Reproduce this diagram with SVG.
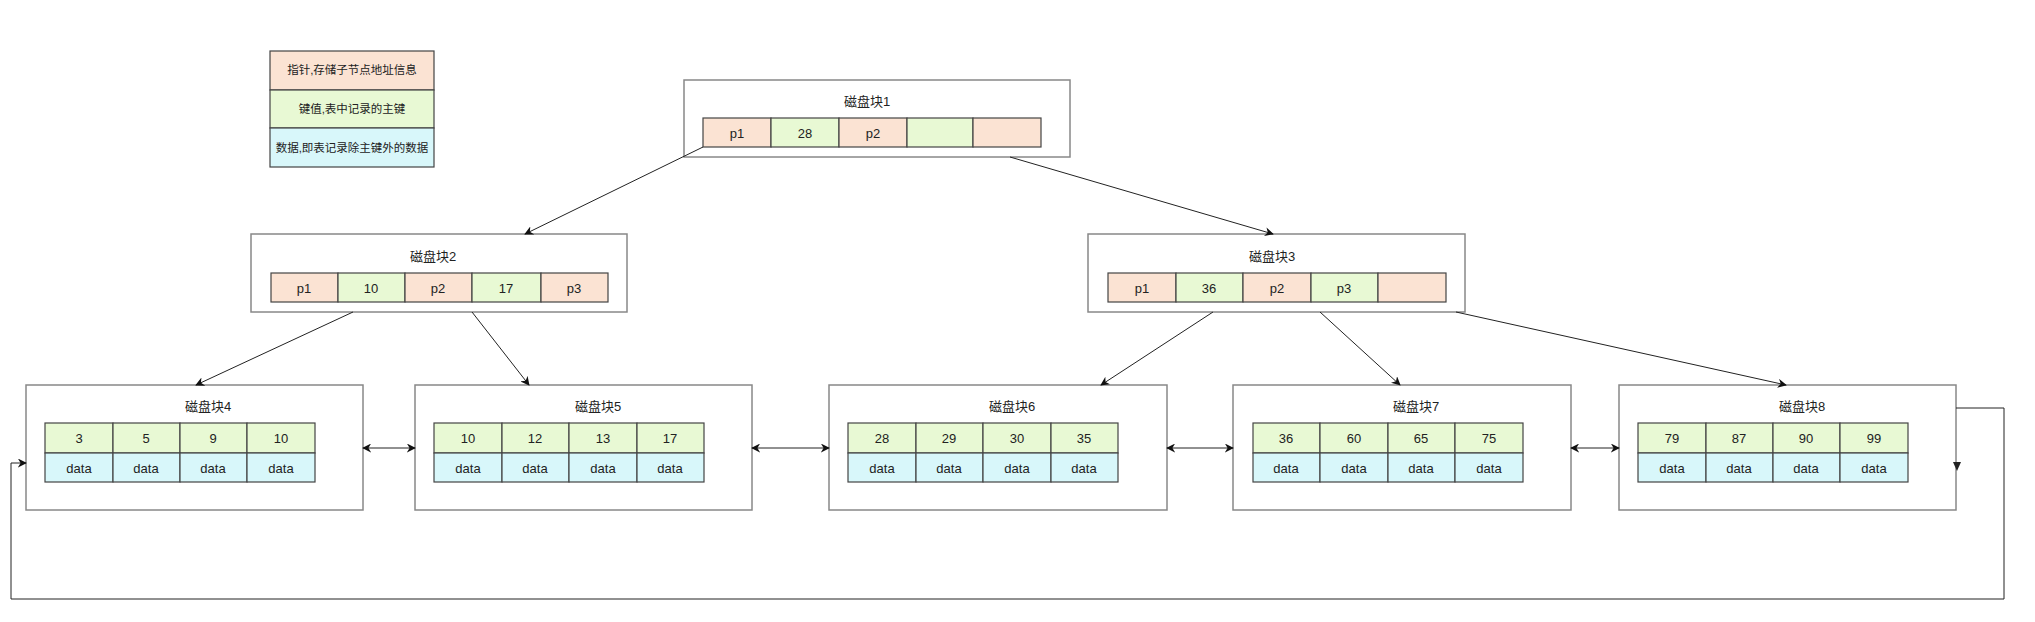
<svg xmlns="http://www.w3.org/2000/svg" width="2035" height="622" viewBox="0 0 2035 622">
<style>
text{font-family:"Liberation Sans","Noto Sans CJK SC",sans-serif;font-size:13px;fill:#222;text-anchor:middle;dominant-baseline:central}
.box{fill:#fff;stroke:#888;stroke-width:1.5}
.p{fill:#fbe3d3;stroke:#444;stroke-width:1.2}
.k{fill:#e8f9d4;stroke:#444;stroke-width:1.2}
.d{fill:#d8f7fa;stroke:#444;stroke-width:1.2}
.c{fill:none;stroke:#222;stroke-width:1}
.leg{font-size:11.5px}
</style>
<defs>
<marker id="ar" viewBox="0 0 10 10" refX="9" refY="5" markerWidth="9" markerHeight="9" markerUnits="userSpaceOnUse" orient="auto-start-reverse">
<path d="M0,0 L10,5 L0,10 L3,5 Z" fill="#111"/>
</marker>
</defs>
<rect width="2035" height="622" fill="#fff"/>

<g id="legend">
<rect class="p" x="270" y="51" width="164" height="39"/>
<rect class="k" x="270" y="90" width="164" height="38"/>
<rect class="d" x="270" y="128" width="164" height="39"/>
<text class="leg" x="352" y="70">指针,存储子节点地址信息</text>
<text class="leg" x="352" y="109">键值,表中记录的主键</text>
<text class="leg" x="352" y="148">数据,即表记录除主键外的数据</text>
</g>

<g id="block1">
<rect class="box" x="684" y="80" width="386" height="77"/>
<text x="867" y="101">磁盘块1</text>
<rect class="p" x="703" y="118" width="68" height="29"/>
<rect class="k" x="771" y="118" width="68" height="29"/>
<rect class="p" x="839" y="118" width="68" height="29"/>
<rect class="k" x="907" y="118" width="66" height="29"/>
<rect class="p" x="973" y="118" width="68" height="29"/>
<text x="737" y="133">p1</text><text x="805" y="133">28</text><text x="873" y="133">p2</text>
</g>

<g id="block2">
<rect class="box" x="251" y="234" width="376" height="78"/>
<text x="433" y="256">磁盘块2</text>
<rect class="p" x="271" y="273" width="67" height="29"/>
<rect class="k" x="338" y="273" width="67" height="29"/>
<rect class="p" x="405" y="273" width="67" height="29"/>
<rect class="k" x="472" y="273" width="69" height="29"/>
<rect class="p" x="541" y="273" width="67" height="29"/>
<text x="304" y="288">p1</text><text x="371" y="288">10</text><text x="438" y="288">p2</text><text x="506" y="288">17</text><text x="574" y="288">p3</text>
</g>

<g id="block3">
<rect class="box" x="1088" y="234" width="377" height="78"/>
<text x="1272" y="256">磁盘块3</text>
<rect class="p" x="1108" y="273" width="68" height="29"/>
<rect class="k" x="1176" y="273" width="67" height="29"/>
<rect class="p" x="1243" y="273" width="68" height="29"/>
<rect class="k" x="1311" y="273" width="67" height="29"/>
<rect class="p" x="1378" y="273" width="68" height="29"/>
<text x="1142" y="288">p1</text><text x="1209" y="288">36</text><text x="1277" y="288">p2</text><text x="1344" y="288">p3</text>
</g>

<g id="block4">
<rect class="box" x="26" y="385" width="337" height="125"/>
<text x="208" y="406">磁盘块4</text>
<rect class="k" x="45" y="423" width="68" height="30"/><rect class="k" x="113" y="423" width="67" height="30"/><rect class="k" x="180" y="423" width="67" height="30"/><rect class="k" x="247" y="423" width="68" height="30"/>
<rect class="d" x="45" y="453" width="68" height="29"/><rect class="d" x="113" y="453" width="67" height="29"/><rect class="d" x="180" y="453" width="67" height="29"/><rect class="d" x="247" y="453" width="68" height="29"/>
<text x="79" y="438">3</text><text x="146" y="438">5</text><text x="213" y="438">9</text><text x="281" y="438">10</text>
<text x="79" y="468">data</text><text x="146" y="468">data</text><text x="213" y="468">data</text><text x="281" y="468">data</text>
</g>

<g id="block5">
<rect class="box" x="415" y="385" width="337" height="125"/>
<text x="598" y="406">磁盘块5</text>
<rect class="k" x="434" y="423" width="68" height="30"/><rect class="k" x="502" y="423" width="67" height="30"/><rect class="k" x="569" y="423" width="68" height="30"/><rect class="k" x="637" y="423" width="67" height="30"/>
<rect class="d" x="434" y="453" width="68" height="29"/><rect class="d" x="502" y="453" width="67" height="29"/><rect class="d" x="569" y="453" width="68" height="29"/><rect class="d" x="637" y="453" width="67" height="29"/>
<text x="468" y="438">10</text><text x="535" y="438">12</text><text x="603" y="438">13</text><text x="670" y="438">17</text>
<text x="468" y="468">data</text><text x="535" y="468">data</text><text x="603" y="468">data</text><text x="670" y="468">data</text>
</g>

<g id="block6">
<rect class="box" x="829" y="385" width="338" height="125"/>
<text x="1012" y="406">磁盘块6</text>
<rect class="k" x="848" y="423" width="68" height="30"/><rect class="k" x="916" y="423" width="67" height="30"/><rect class="k" x="983" y="423" width="68" height="30"/><rect class="k" x="1051" y="423" width="67" height="30"/>
<rect class="d" x="848" y="453" width="68" height="29"/><rect class="d" x="916" y="453" width="67" height="29"/><rect class="d" x="983" y="453" width="68" height="29"/><rect class="d" x="1051" y="453" width="67" height="29"/>
<text x="882" y="438">28</text><text x="949" y="438">29</text><text x="1017" y="438">30</text><text x="1084" y="438">35</text>
<text x="882" y="468">data</text><text x="949" y="468">data</text><text x="1017" y="468">data</text><text x="1084" y="468">data</text>
</g>

<g id="block7">
<rect class="box" x="1233" y="385" width="338" height="125"/>
<text x="1416" y="406">磁盘块7</text>
<rect class="k" x="1253" y="423" width="67" height="30"/><rect class="k" x="1320" y="423" width="68" height="30"/><rect class="k" x="1388" y="423" width="67" height="30"/><rect class="k" x="1455" y="423" width="68" height="30"/>
<rect class="d" x="1253" y="453" width="67" height="29"/><rect class="d" x="1320" y="453" width="68" height="29"/><rect class="d" x="1388" y="453" width="67" height="29"/><rect class="d" x="1455" y="453" width="68" height="29"/>
<text x="1286" y="438">36</text><text x="1354" y="438">60</text><text x="1421" y="438">65</text><text x="1489" y="438">75</text>
<text x="1286" y="468">data</text><text x="1354" y="468">data</text><text x="1421" y="468">data</text><text x="1489" y="468">data</text>
</g>

<g id="block8">
<rect class="box" x="1619" y="385" width="337" height="125"/>
<text x="1802" y="406">磁盘块8</text>
<rect class="k" x="1638" y="423" width="68" height="30"/><rect class="k" x="1706" y="423" width="67" height="30"/><rect class="k" x="1773" y="423" width="67" height="30"/><rect class="k" x="1840" y="423" width="68" height="30"/>
<rect class="d" x="1638" y="453" width="68" height="29"/><rect class="d" x="1706" y="453" width="67" height="29"/><rect class="d" x="1773" y="453" width="67" height="29"/><rect class="d" x="1840" y="453" width="68" height="29"/>
<text x="1672" y="438">79</text><text x="1739" y="438">87</text><text x="1806" y="438">90</text><text x="1874" y="438">99</text>
<text x="1672" y="468">data</text><text x="1739" y="468">data</text><text x="1806" y="468">data</text><text x="1874" y="468">data</text>
</g>

<g id="connectors">
<line class="c" x1="703" y1="147" x2="525" y2="234" marker-end="url(#ar)"/>
<line class="c" x1="1010" y1="157" x2="1273" y2="234" marker-end="url(#ar)"/>
<line class="c" x1="353" y1="312" x2="196" y2="385" marker-end="url(#ar)"/>
<line class="c" x1="472" y1="312" x2="529" y2="385" marker-end="url(#ar)"/>
<line class="c" x1="1213" y1="312" x2="1101" y2="385" marker-end="url(#ar)"/>
<line class="c" x1="1320" y1="312" x2="1400" y2="385" marker-end="url(#ar)"/>
<line class="c" x1="1456" y1="312" x2="1786" y2="385" marker-end="url(#ar)"/>
<line class="c" x1="363" y1="448" x2="415" y2="448" marker-start="url(#ar)" marker-end="url(#ar)"/>
<line class="c" x1="752" y1="448" x2="829" y2="448" marker-start="url(#ar)" marker-end="url(#ar)"/>
<line class="c" x1="1167" y1="448" x2="1233" y2="448" marker-start="url(#ar)" marker-end="url(#ar)"/>
<line class="c" x1="1571" y1="448" x2="1619" y2="448" marker-start="url(#ar)" marker-end="url(#ar)"/>
<polyline class="c" points="1956,408 2004,408 2004,599 11,599 11,463 26,463" marker-end="url(#ar)"/>
<path d="M1953,462 L1961,462 L1957,471 Z" fill="#222"/>
</g>
</svg>
